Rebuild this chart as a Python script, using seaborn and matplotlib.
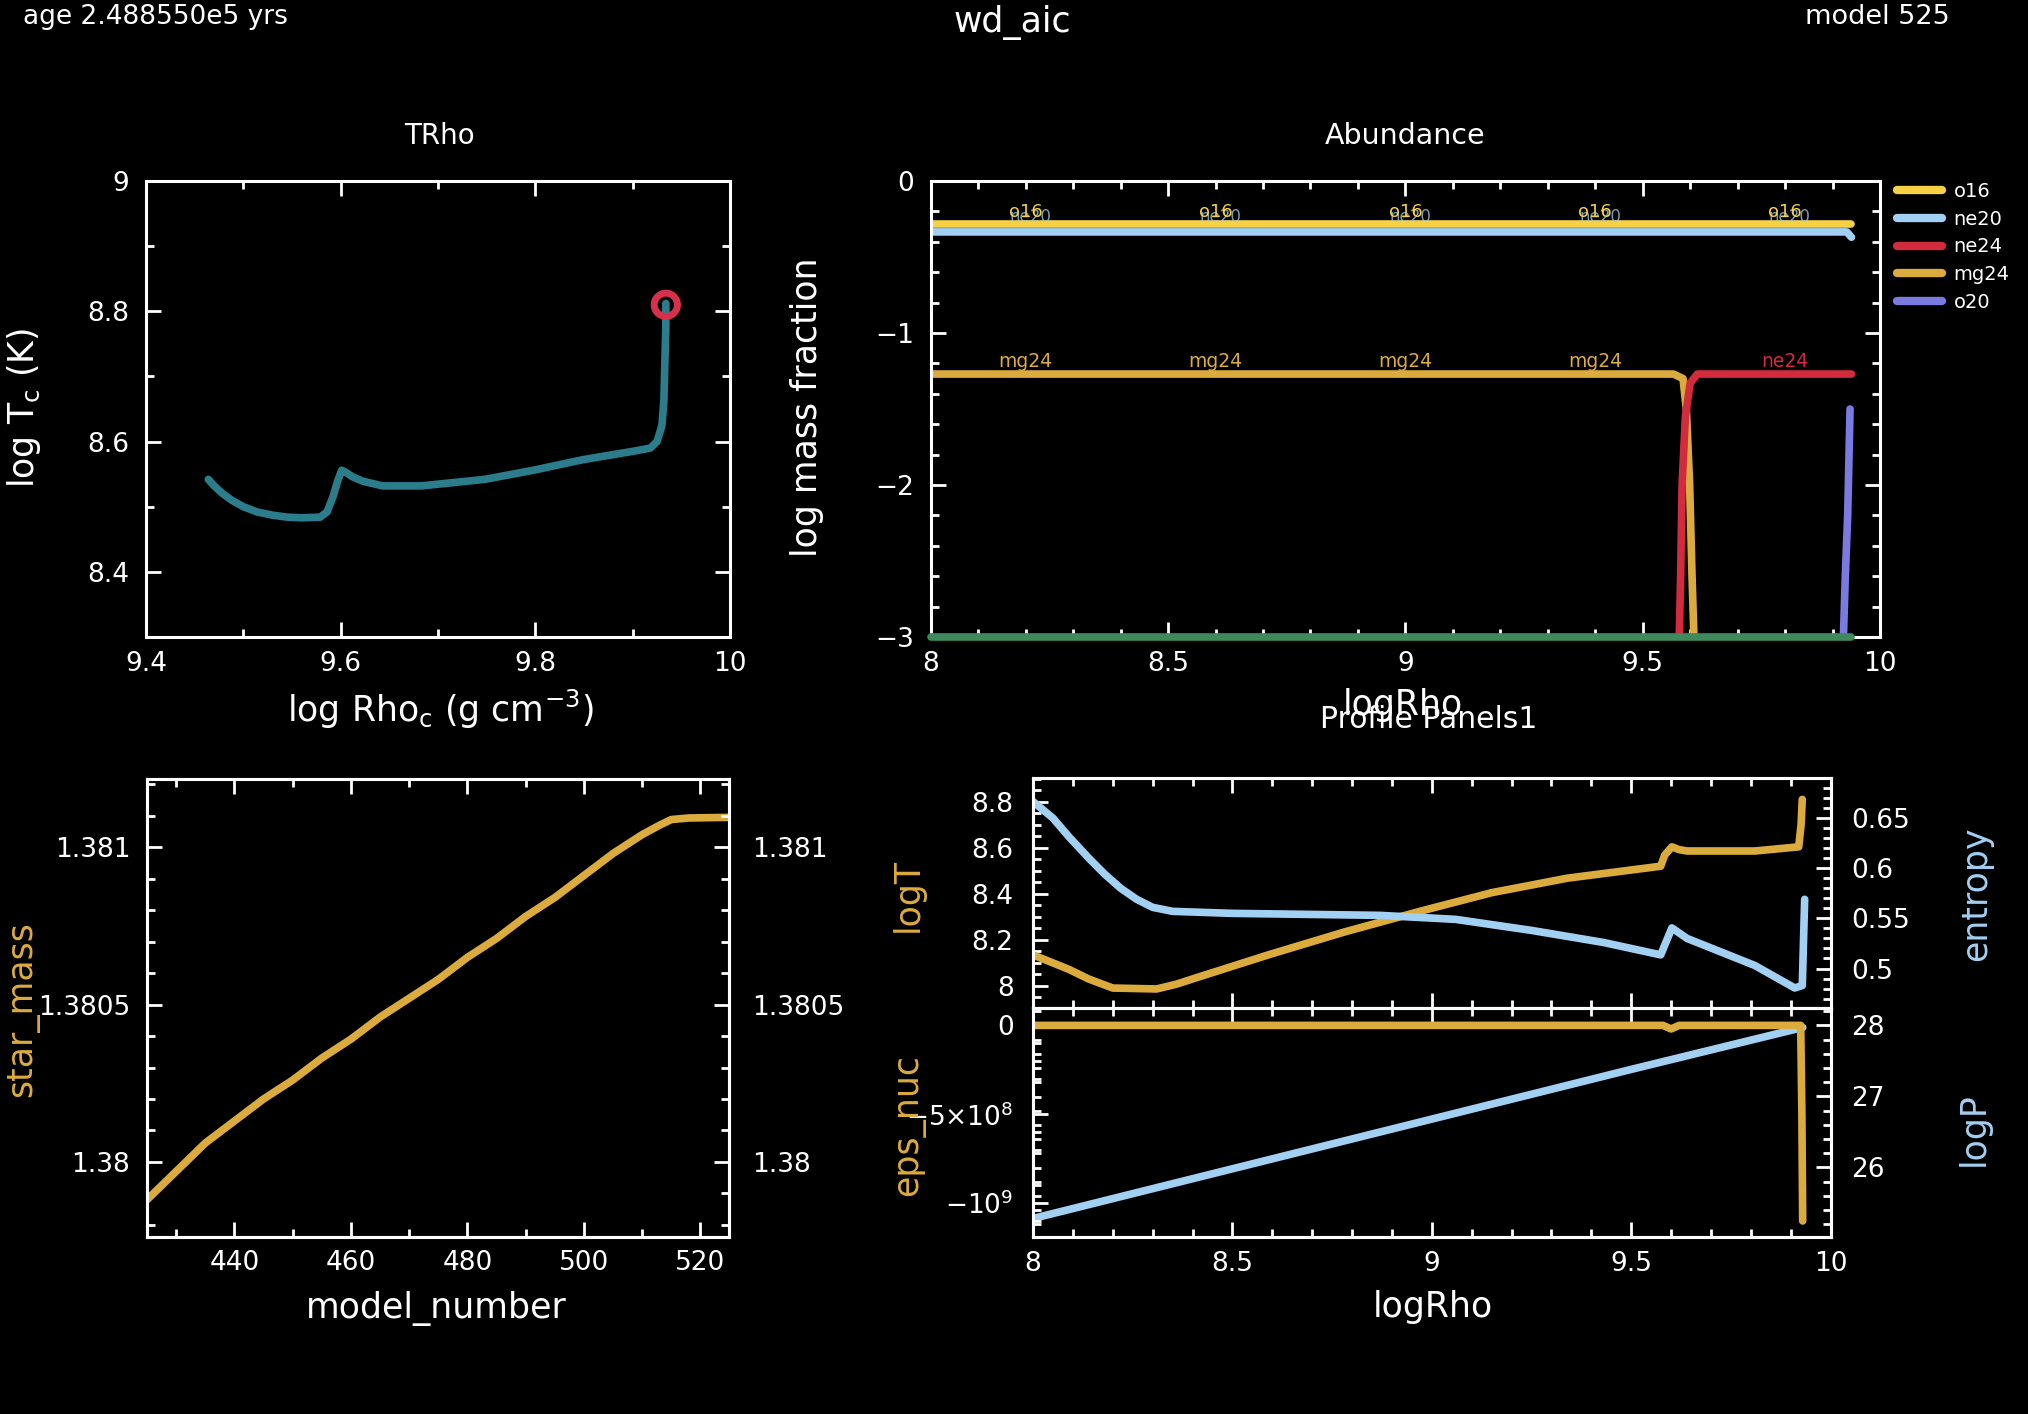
import numpy as np
import pandas as pd
import matplotlib
matplotlib.use('Agg')
import matplotlib.pyplot as plt
import seaborn as sns
from matplotlib.lines import Line2D
from matplotlib.ticker import MultipleLocator, FuncFormatter, FixedLocator, FixedFormatter

# ---------------------------
# Data read off the reference frame
# ---------------------------
# TRho panel: central density / temperature track
trho_logrho = [9.464, 9.470, 9.478, 9.488, 9.500, 9.514, 9.530, 9.545, 9.560, 9.579, 9.586,
               9.592, 9.597, 9.601, 9.605, 9.612, 9.623, 9.643, 9.683, 9.748, 9.798, 9.848,
               9.900, 9.918, 9.925, 9.930, 9.932, 9.934, 9.934]
trho_logt = [8.542, 8.532, 8.521, 8.510, 8.500, 8.492, 8.487, 8.484, 8.483, 8.484, 8.492,
             8.515, 8.540, 8.556, 8.553, 8.546, 8.539, 8.532, 8.532, 8.542, 8.556, 8.572,
             8.585, 8.590, 8.600, 8.625, 8.663, 8.777, 8.812]
current_logrho = [9.934]
current_logt = [8.81]

# Abundance panel (log mass fraction vs logRho)
o16_rho = [8.0, 9.94]
o16_val = [-0.285, -0.285]
ne20_rho = [8.0, 9.93, 9.94]
ne20_val = [-0.335, -0.335, -0.37]
ne24_rho = [9.577, 9.580, 9.583, 9.590, 9.600, 9.615, 9.94]
ne24_val = [-3.0, -2.6, -2.0, -1.55, -1.33, -1.27, -1.27]
mg24_rho = [8.0, 9.565, 9.585, 9.592, 9.599, 9.604, 9.608]
mg24_val = [-1.27, -1.27, -1.30, -1.50, -2.0, -2.6, -3.0]
o20_rho = [9.923, 9.927, 9.932, 9.937]
o20_val = [-3.0, -2.6, -2.2, -1.5]
floor_rho = [8.0, 9.94]
floor_val = [-3.0, -3.0]
species = ['o16', 'ne20', 'ne24', 'mg24', 'o20']
label_rho = [8.2, 8.6, 9.0, 9.4, 9.8]
low_labels = ['mg24', 'mg24', 'mg24', 'mg24', 'ne24']

# History panel: star_mass vs model_number
model_number = [425, 430, 435, 440, 445, 450, 455, 460, 465, 470, 475, 480, 485,
                490, 495, 500, 505, 510, 513, 515, 518, 525]
star_mass = [1.37988, 1.37997, 1.38006, 1.38013, 1.38020, 1.38026, 1.38033, 1.38039,
             1.38046, 1.38052, 1.38058, 1.38065, 1.38071, 1.38078, 1.38084, 1.38091,
             1.38098, 1.38104, 1.38107, 1.381088, 1.381093, 1.381095]

# Profile panels
logt_rho = [8.0, 8.05, 8.09, 8.14, 8.2, 8.31, 8.36, 8.41, 8.59, 8.78, 8.97, 9.15, 9.34,
            9.574, 9.584, 9.602, 9.62, 9.64, 9.81, 9.92, 9.926, 9.929]
logt_val = [8.135, 8.100, 8.072, 8.030, 7.991, 7.987, 8.008, 8.036, 8.135, 8.234, 8.324,
            8.405, 8.468, 8.52, 8.568, 8.604, 8.592, 8.586, 8.586, 8.604, 8.70, 8.81]
ent_rho = [8.0, 8.05, 8.09, 8.14, 8.18, 8.22, 8.26, 8.30, 8.35, 8.5, 8.87, 9.06, 9.25,
           9.43, 9.574, 9.602, 9.64, 9.81, 9.91, 9.929, 9.935]
ent_val = [0.6665, 0.650, 0.6314, 0.610, 0.594, 0.580, 0.569, 0.561, 0.557, 0.555, 0.553,
           0.549, 0.538, 0.526, 0.5136, 0.5405, 0.530, 0.503, 0.4806, 0.483, 0.569]
eps_rho = [8.0, 9.58, 9.60, 9.62, 9.925, 9.928, 9.93]
eps_val = [0.0, 0.0, -2.0e7, 0.0, 0.0, -5.0e8, -1.1e9]
logp_rho = [8.0, 8.5, 9.0, 9.5, 9.93]
logp_val = [25.28, 25.98, 26.68, 27.38, 27.97]

# ---------------------------
# Style
# ---------------------------
sns.set_theme(style='dark')
plt.rcParams.update({
    'figure.facecolor': 'black',
    'axes.facecolor': 'black',
    'savefig.facecolor': 'black',
    'text.color': 'white',
    'axes.labelcolor': 'white',
    'xtick.color': 'white',
    'ytick.color': 'white',
    'axes.unicode_minus': True,
})
plt.rcParams['font.family'] = ['DejaVu Sans']

GOLD = '#dcab3e'
YELLOW = '#f6d143'
LBLUE = '#a2d0f2'
RED = '#d22b3d'
PURPLE = '#7b7ae0'
GREEN = '#3e8a5c'
TEAL = '#2b7d8c'
CIRCLE = '#d6304c'
TICK = 19
LAB = 25

fmt = FuncFormatter(lambda v, p: f'{v:g}'.replace('-', '\u2212'))


def frame(ax, xmaj, xmin, ymaj, ymin, right=True):
    ax.set_facecolor('black')
    ax.grid(False)
    for s in ax.spines.values():
        s.set_color('white')
        s.set_linewidth(2.2)
    ax.xaxis.set_major_locator(MultipleLocator(xmaj))
    ax.xaxis.set_minor_locator(MultipleLocator(xmin))
    ax.yaxis.set_major_locator(MultipleLocator(ymaj))
    ax.yaxis.set_minor_locator(MultipleLocator(ymin))
    ax.xaxis.set_major_formatter(fmt)
    ax.yaxis.set_major_formatter(fmt)
    ax.tick_params(which='both', direction='in', top=True, right=right, bottom=True,
                   left=True, width=2, colors='white', labelsize=TICK)
    ax.tick_params(which='major', length=11)
    ax.tick_params(which='minor', length=6)


fig = plt.figure(figsize=(20.28, 14.14), dpi=100)

# ---------------------------
# TRho
# ---------------------------
ax1 = fig.add_axes([0.072, 0.5495, 0.288, 0.3225])
df_trho = pd.DataFrame({'logRho': trho_logrho, 'logT': trho_logt})
sns.lineplot(data=df_trho, x='logRho', y='logT', sort=False, estimator=None,
             color=TEAL, linewidth=5.5, ax=ax1)
sns.scatterplot(x=current_logrho, y=current_logt, ax=ax1, s=280, marker='o',
                facecolor='none', edgecolor=CIRCLE, linewidth=5, zorder=5)
ax1.set_xlim(9.4, 10.0)
ax1.set_ylim(8.3, 9.0)
frame(ax1, 0.2, 0.1, 0.2, 0.1)
ax1.tick_params(axis='x', pad=10)
ax1.tick_params(axis='y', pad=12)
ax1.set_xlabel(r'log Rho$_{\rm c}$ (g cm$^{-3}$)', fontsize=LAB, va='center', ha='center')
ax1.set_ylabel(r'log T$_{\rm c}$ (K)', fontsize=LAB, va='center', ha='center')
ax1.xaxis.set_label_coords(0.503, -0.158)
ax1.yaxis.set_label_coords(-0.209, 0.503)
fig.text(439 / 2028, 1 - 136 / 1414, 'TRho', ha='center', va='center', fontsize=20)

# ---------------------------
# Abundance
# ---------------------------
ax2 = fig.add_axes([0.459, 0.5495, 0.468, 0.3225])
abund = [(o16_rho, o16_val, YELLOW), (ne20_rho, ne20_val, LBLUE), (floor_rho, floor_val, GREEN),
         (mg24_rho, mg24_val, GOLD), (ne24_rho, ne24_val, RED), (o20_rho, o20_val, PURPLE)]
for xs, ys, c in abund:
    d = pd.DataFrame({'logRho': xs, 'logX': ys})
    sns.lineplot(data=d, x='logRho', y='logX', sort=False, estimator=None, color=c,
                 linewidth=5.5, ax=ax2)
ax2.lines[2].set_clip_on(False)
ax2.lines[2].set_zorder(6)
# inline species labels (o16 and ne20 labels sit on top of each other, as in the frame)
for xr, lab in zip(label_rho, low_labels):
    ax2.text(xr + 0.01, -0.235, 'ne20', color=LBLUE, fontsize=12, ha='center', va='center',
             alpha=0.75)
    ax2.text(xr, -0.205, 'o16', color=YELLOW, fontsize=13, ha='center', va='center')
    ax2.text(xr, -1.19, lab, color=RED if lab == 'ne24' else GOLD, fontsize=13.5,
             ha='center', va='center')
ax2.set_xlim(8.0, 10.0)
ax2.set_ylim(-3.0, 0.0)
frame(ax2, 0.5, 0.1, 1.0, 0.2)
ax2.tick_params(axis='x', pad=10)
ax2.tick_params(axis='y', pad=12)
ax2.set_xlabel('logRho', fontsize=LAB, va='center', ha='center')
ax2.set_ylabel('log mass fraction', fontsize=LAB, va='center', ha='center')
ax2.xaxis.set_label_coords(0.497, -0.149)
ax2.yaxis.set_label_coords(-0.130, 0.503)
handles = [Line2D([0], [0], color=c, lw=6, solid_capstyle='round')
           for c in [YELLOW, LBLUE, RED, GOLD, PURPLE]]
fig.legend(handles, species, loc='upper left', bbox_to_anchor=(0.9354, 0.8713),
           frameon=False, fontsize=14, handlelength=2.3, handletextpad=0.6,
           labelspacing=0.45, borderpad=0, borderaxespad=0, labelcolor='white')
fig.text(1405 / 2028, 1 - 136 / 1414, 'Abundance', ha='center', va='center', fontsize=20.5)

# ---------------------------
# star_mass history
# ---------------------------
ax3 = fig.add_axes([0.0725, 0.1255, 0.2872, 0.3235])
df_hist = pd.DataFrame({'model_number': model_number, 'star_mass': star_mass})
sns.lineplot(data=df_hist, x='model_number', y='star_mass', color=GOLD, linewidth=5.5,
             ax=ax3)
ax3.set_xlim(425, 525)
ax3.set_ylim(1.379763, 1.3812165)
frame(ax3, 20, 10, 0.0005, 0.0001, right=False)
ax3.tick_params(axis='x', pad=10)
ax3.tick_params(axis='y', pad=12)
ax3r = ax3.twinx()
ax3r.set_ylim(ax3.get_ylim())
ax3r.yaxis.set_major_locator(MultipleLocator(0.0005))
ax3r.yaxis.set_minor_locator(MultipleLocator(0.0001))
ax3r.yaxis.set_major_formatter(fmt)
ax3r.tick_params(which='both', direction='in', width=2, colors='white', labelsize=TICK,
                 pad=16)
ax3r.tick_params(which='major', length=11)
ax3r.tick_params(which='minor', length=6)
ax3r.grid(False)
for s in ax3r.spines.values():
    s.set_color('white')
    s.set_linewidth(2.2)
ax3.set_xlabel('model_number', fontsize=LAB, va='center', ha='center')
ax3.set_ylabel('star_mass', fontsize=LAB, color=GOLD, va='center', ha='center')
ax3.xaxis.set_label_coords(0.496, -0.158)
ax3.yaxis.set_label_coords(-0.215, 0.497)

# ---------------------------
# Profile Panels1
# ---------------------------
pl, pw = 1033 / 2028, 797.6 / 2028
ax4 = fig.add_axes([pl, 0.2874, pw, 0.1624])
ax5 = fig.add_axes([pl, 0.1252, pw, 0.1622])

sns.lineplot(x=logt_rho, y=logt_val, sort=False, estimator=None, color=GOLD,
             linewidth=5.5, ax=ax4)
ax4.set_xlim(8.0, 10.0)
ax4.set_ylim(7.906, 8.903)
frame(ax4, 0.5, 0.1, 0.2, 0.05, right=False)
ax4.tick_params(axis='x', labelbottom=False)
ax4.tick_params(axis='y', pad=14)
ax4r = ax4.twinx()
sns.lineplot(x=ent_rho, y=ent_val, sort=False, estimator=None, color=LBLUE,
             linewidth=5.5, ax=ax4r)
ax4r.set_ylim(0.461, 0.690)

sns.lineplot(x=logp_rho, y=logp_val, sort=False, estimator=None, color=LBLUE,
             linewidth=5.5, ax=ax5, zorder=2)
ax5r = ax5.twinx()
sns.lineplot(x=eps_rho, y=eps_val, sort=False, estimator=None, color=GOLD,
             linewidth=5.5, ax=ax5r)
ax5.set_xlim(8.0, 10.0)

# eps_nuc on the left, logP on the right: swap the axes sides
ax5.yaxis.tick_right()
ax5.yaxis.set_label_position('right')
ax5r.yaxis.tick_left()
ax5r.yaxis.set_label_position('left')
ax5.set_ylim(25.02, 28.25)
ax5r.set_ylim(-1.19e9, 1.0e8)

frame(ax5, 0.5, 0.1, 1.0, 0.2, right=True)
ax5.tick_params(axis='y', left=False, right=True, labelleft=False, labelright=True, pad=15)
ax5.tick_params(axis='x', pad=10)

ax4r.yaxis.set_major_locator(MultipleLocator(0.05))
ax4r.yaxis.set_minor_locator(MultipleLocator(0.01))
ax4r.yaxis.set_major_formatter(fmt)
ax4r.tick_params(which='both', direction='in', width=2, colors='white', labelsize=TICK,
                 pad=15)
ax5r.yaxis.set_major_locator(FixedLocator([-1e9, -5e8, 0]))
ax5r.yaxis.set_major_formatter(FixedFormatter(['\u221210$^9$', '\u22125\u00d710$^8$', '0']))
ax5r.yaxis.set_minor_locator(MultipleLocator(1e8))
ax5r.tick_params(which='both', direction='in', width=2, colors='white', labelsize=TICK,
                 pad=14, left=True, right=False, labelleft=True, labelright=False)
for a in (ax4r, ax5r):
    a.grid(False)
    a.tick_params(which='major', length=11)
    a.tick_params(which='minor', length=6)
    for s in a.spines.values():
        s.set_color('white')
        s.set_linewidth(2.2)

ax4.set_ylabel('logT', fontsize=LAB, color=GOLD, va='center', ha='center')
ax4.yaxis.set_label_coords(-0.157, 0.49)
ax4r.set_ylabel('entropy', fontsize=LAB, color=LBLUE, va='center', ha='center',
                rotation=90)
ax4r.yaxis.set_label_coords(1.183, 0.497)
ax5r.set_ylabel('eps_nuc', fontsize=LAB, color=GOLD, va='center', ha='center')
ax5r.yaxis.set_label_coords(-0.157, 0.49)
ax5.set_ylabel('logP', fontsize=LAB, color=LBLUE, va='center', ha='center', rotation=90)
ax5.yaxis.set_label_coords(1.179, 0.47)
ax5.set_xlabel('logRho', fontsize=LAB, va='center', ha='center')
ax5.xaxis.set_label_coords(0.5015, -0.305)
ax4.set_xlabel('')
ax5r.set_xlabel('')
ax4r.set_xlabel('')

fig.text(1429 / 2028, 1 - 720 / 1414, 'Profile Panels1', ha='center', va='center',
         fontsize=21.5)

# ---------------------------
# Header
# ---------------------------
fig.text(23 / 2028, 1 - 17 / 1414, 'age 2.488550e5 yrs', ha='left', va='center', fontsize=19)
fig.text(1012 / 2028, 1 - 22 / 1414, 'wd_aic', ha='center', va='center', fontsize=25)
fig.text(1950 / 2028, 1 - 17 / 1414, 'model 525', ha='right', va='center', fontsize=19.5)

fig.savefig('out.png', dpi=100, facecolor='black')
